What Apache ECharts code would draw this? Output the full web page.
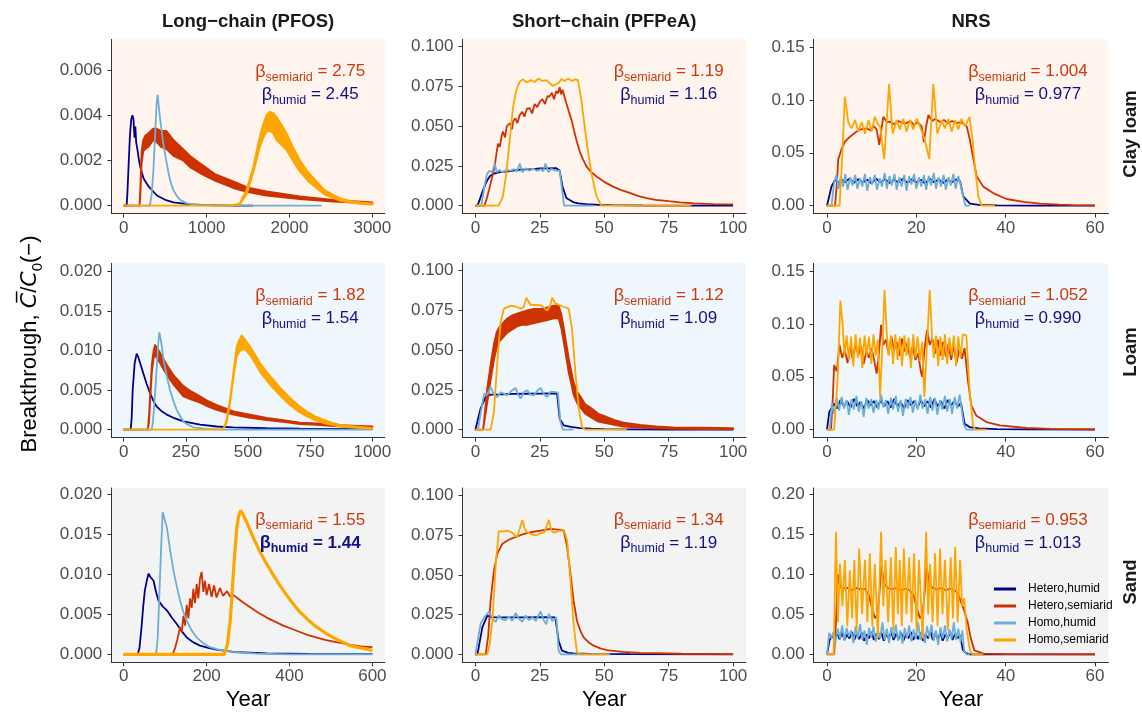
<!DOCTYPE html>
<html><head><meta charset="utf-8">
<script src="https://cdn.jsdelivr.net/npm/echarts@6/dist/echarts.min.js"></script>
<style>html,body{margin:0;padding:0;background:#fff}#c{width:1142px;height:715px}</style>
</head><body><div id="c"></div>
<script>
// ---------------- labels ----------------
const seriesNames = ['Hetero,humid','Hetero,semiarid','Homo,humid','Homo,semiarid'];
const colTitles = ['Long\u2212chain (PFOS)','Short\u2212chain (PFPeA)','NRS'];
const rowLabels = ['Clay loam','Loam','Sand'];
const betaSemiarid = [['2.75','1.19','1.004'],['1.82','1.12','1.052'],['1.55','1.34','0.953']];
const betaHumid    = [['2.45','1.16','0.977'],['1.54','1.09','0.990'],['1.44','1.19','1.013']];
// axis extents (data max per panel) and tick labels  [row][col]
const xMaxByPanel = [[3000,100,60],[1000,100,60],[600,100,60]];
const yMaxByPanel = [[0.007,0.0997,0.1497],[0.02,0.0997,0.1497],[0.0198,0.0997,0.1977]];
const xTicks = [
  [[0,1000,2000,3000],[0,25,50,75,100],[0,20,40,60]],
  [[0,250,500,750,1000],[0,25,50,75,100],[0,20,40,60]],
  [[0,200,400,600],[0,25,50,75,100],[0,20,40,60]]];
const yTicks = [
  [[0,0.002,0.004,0.006],[0,0.025,0.05,0.075,0.1],[0,0.05,0.1,0.15]],
  [[0,0.005,0.01,0.015,0.02],[0,0.025,0.05,0.075,0.1],[0,0.05,0.1,0.15]],
  [[0,0.005,0.01,0.015,0.02],[0,0.025,0.05,0.075,0.1],[0,0.05,0.1,0.15,0.2]]];

// ---------------- data: PFOS, clay loam ----------------
const pfosClay_hetHumid = [[0,0],[35,0],[45,0.0006],[60,0.0019],[75,0.0031],[90,0.0038],[105,0.0040],[118,0.0038],[130,0.0030],[140,0.0035],[150,0.0028],[165,0.0025],[180,0.0021],[200,0.0017],[240,0.0012],[300,0.00085],[400,0.00045],[500,0.00026],[600,0.00015],[800,0.00006],[1000,0.00002],[1300,0],[1560,0]];
const pfosClay_hetSemiBand = [[0,0,0],[190,0,0],[200,0.0004,0.0008],[215,0.0018,0.0024],[235,0.0024,0.0029],[260,0.0025,0.0031],[300,0.0026,0.0032],[355,0.0029,0.0034],[400,0.0028,0.0034],[450,0.0026,0.0033],[516,0.0025,0.0033],[600,0.0022,0.0029],[717,0.0020,0.0025],[800,0.0017,0.0022],[919,0.00144,0.00188],[1100,0.0011,0.0014],[1321,0.00078,0.00107],[1500,0.0006,0.0008],[1723,0.00044,0.00063],[2124,0.00029,0.00041],[2526,0.00018,0.00026],[3000,0.0001,0.00015]];
const pfosClay_homHumid = [[0,0],[315,0],[337,0.0005],[357,0.0015],[377,0.003],[397,0.0045],[409,0.0049],[420,0.0045],[437,0.0039],[457,0.0033],[477,0.00275],[498,0.0023],[518,0.00188],[538,0.0015],[558,0.00114],[578,0.0009],[598,0.0007],[638,0.00045],[678,0.00026],[760,0.0001],[900,0.00003],[1100,0],[2385,0]];
const pfosClay_homSemiBand = [[0,0,0],[1300,0,0],[1400,0.00005,0.0001],[1482,0.0005,0.0007],[1562,0.00144,0.0017],[1602,0.002,0.0024],[1642,0.0026,0.00305],[1683,0.0030,0.0036],[1723,0.00327,0.0040],[1763,0.0033,0.00415],[1803,0.0032,0.0041],[1843,0.0029,0.00393],[1900,0.0027,0.0036],[1964,0.00246,0.0032],[2040,0.002,0.0026],[2124,0.00151,0.00202],[2220,0.0011,0.0015],[2325,0.00078,0.00107],[2420,0.0005,0.0007],[2526,0.00034,0.00048],[2627,0.0002,0.0003],[2727,0.00015,0.00022],[2850,0.00008,0.00014],[3000,0.00005,0.0001]];

// ---------------- PFOS, loam ----------------
const pfosLoam_hetHumid = [[0,0],[28,0],[32,0.0015],[36,0.005],[44,0.0084],[52,0.0096],[58,0.0092],[65,0.0085],[79,0.0071],[92,0.0058],[106,0.0046],[120,0.0036],[133,0.0029],[150,0.0024],[173,0.0019],[200,0.0015],[240,0.00105],[307,0.00063],[374,0.0004],[441,0.0003],[575,0.00018],[709,0.00012],[843,0.0001],[1000,0.00008]];
const pfosLoam_hetSemiBand = [[0,0,0],[97,0,0],[102,0.001,0.002],[106,0.0035,0.0045],[113,0.0072,0.0082],[120,0.0090,0.0100],[126,0.0094,0.0107],[132,0.0091,0.0104],[139,0.0088,0.0101],[155,0.0079,0.0092],[173,0.0069,0.0082],[200,0.0057,0.0069],[240,0.0042,0.0055],[273,0.0038,0.0048],[307,0.0034,0.0042],[340,0.0029,0.0036],[374,0.0025,0.0031],[441,0.0019,0.0023],[508,0.0015,0.0019],[575,0.0012,0.0015],[642,0.001,0.0012],[709,0.0007,0.0009],[776,0.0006,0.0008],[843,0.00046,0.0006],[920,0.0004,0.0005],[1000,0.0003,0.0004]];
const pfosLoam_homHumid = [[0,0],[112,0],[117,0.0008],[122,0.0029],[128,0.0055],[133,0.008],[138,0.0105],[143,0.0123],[150,0.0112],[160,0.0088],[173,0.0068],[186,0.005],[200,0.0036],[213,0.0025],[227,0.0017],[240,0.001],[260,0.0006],[280,0.0003],[334,0.0001],[400,0],[1000,0]];
const pfosLoam_homSemiBand = [[0,0,0],[400,0,0],[414,0.0009,0.0013],[428,0.0034,0.004],[441,0.0065,0.0072],[454,0.0092,0.0105],[464,0.0098,0.0113],[474,0.0101,0.0119],[490,0.0101,0.0113],[508,0.0094,0.0105],[528,0.0084,0.0095],[548,0.0073,0.0084],[575,0.0062,0.0073],[602,0.0052,0.0063],[635,0.0041,0.0051],[669,0.0031,0.004],[702,0.0023,0.0031],[736,0.0017,0.0023],[770,0.0012,0.0017],[803,0.00084,0.00126],[836,0.0006,0.0009],[870,0.0004,0.0006],[935,0.00022,0.0004],[1000,0.0001,0.0002]];

// ---------------- PFOS, sand ----------------
const pfosSand_hetHumid = [[0,0],[34,0],[38,0.0008],[43,0.0034],[47,0.006],[51,0.008],[56,0.0093],[60,0.0101],[64,0.0097],[68,0.0099],[72,0.0092],[78,0.0078],[84,0.0067],[94,0.006],[104,0.0055],[116,0.0046],[128,0.0038],[140,0.0029],[152,0.0021],[168,0.0015],[184,0.0011],[204,0.0008],[224,0.0006],[265,0.0003],[345,0.00013],[450,0.00005],[600,0.00002]];
const pfosSand_hetSemi = [[0,0],[118,0],[124,0.0008],[130,0.002],[136,0.0034],[140,0.0028],[144,0.0048],[148,0.0036],[152,0.0062],[156,0.0045],[160,0.007],[164,0.0058],[168,0.0082],[172,0.0064],[176,0.0088],[180,0.007],[184,0.0095],[188,0.0103],[192,0.0078],[196,0.0092],[200,0.0074],[206,0.0088],[212,0.0072],[218,0.0086],[224,0.0071],[232,0.0083],[240,0.0073],[249,0.0079],[257,0.0072],[265,0.0074],[285,0.0066],[305,0.0059],[325,0.0052],[345,0.0046],[365,0.0041],[385,0.0036],[405,0.0032],[425,0.0028],[445,0.0024],[466,0.0021],[486,0.0018],[506,0.0016],[526,0.0014],[546,0.0012],[573,0.001],[600,0.0009]];
const pfosSand_homHumid = [[0,0],[78,0],[82,0.002],[86,0.0076],[90,0.013],[94,0.0178],[99,0.0168],[104,0.0159],[112,0.013],[120,0.0105],[128,0.0085],[136,0.0067],[144,0.0053],[152,0.0042],[164,0.003],[176,0.0021],[192,0.0014],[208,0.0009],[236,0.0005],[265,0.0003],[320,0.0001],[400,0],[600,0]];
const pfosSand_homSemi = [[0,0],[243,0],[250,0.0012],[257,0.0042],[261,0.0072],[265,0.0105],[269,0.0133],[273,0.0159],[277,0.0172],[282,0.018],[287,0.0176],[295,0.0167],[305,0.0155],[317,0.0141],[329,0.0128],[345,0.0113],[361,0.0099],[377,0.0086],[393,0.0074],[409,0.0063],[425,0.0053],[445,0.0043],[466,0.0034],[486,0.0027],[506,0.0021],[526,0.0016],[546,0.0011],[573,0.0008],[600,0.0005]];

// ---------------- PFPeA, clay loam ----------------
const pfpeaClay_hetHumid = [[0,0],[0.8,0],[1.7,0.0038],[3,0.01],[4.3,0.015],[5.6,0.0185],[6.9,0.02],[9,0.021],[12,0.0215],[14.6,0.022],[17.2,0.0226],[20,0.0228],[22.5,0.023],[25,0.0234],[28,0.0235],[31.4,0.0236],[32.7,0.022],[33.8,0.012],[35.3,0.0048],[37.9,0.0023],[40,0.0015],[43,0.001],[48,0.0005],[53,0.0003],[65,0.0001],[80,0],[100,0]];
const pfpeaClay_hetSemi = [[0,0],[3.5,0],[4.5,0.005],[5.6,0.012],[6.5,0.018],[7.5,0.0247],[8.2,0.033],[8.8,0.039],[9.5,0.037],[10.2,0.044],[10.7,0.0467],[11.5,0.043],[12.2,0.05],[12.7,0.0498],[13.5,0.052],[14.2,0.048],[14.6,0.053],[15.5,0.055],[16.3,0.052],[17.2,0.057],[18.2,0.059],[19,0.056],[20,0.061],[21.1,0.0613],[22,0.058],[23,0.064],[24,0.062],[25,0.0655],[26,0.067],[27,0.064],[28,0.069],[28.8,0.0686],[29.7,0.071],[30.5,0.067],[31.3,0.072],[32.1,0.0707],[32.7,0.0745],[33.3,0.07],[33.8,0.073],[34.5,0.069],[35.3,0.0644],[36.3,0.059],[37.3,0.054],[38.3,0.047],[39.2,0.0414],[40.5,0.034],[41.8,0.029],[43.1,0.0247],[45,0.021],[47,0.0184],[50,0.015],[53.4,0.012],[56.6,0.0098],[59.9,0.008],[63,0.0062],[66.4,0.0048],[70,0.0037],[75,0.0028],[79.3,0.0021],[85,0.0015],[92.2,0.001],[100,0.0008]];
const pfpeaClay_homHumid = [[0,0],[2.3,0],[3.5,0.012],[4.5,0.02],[5.5,0.022],[6.5,0.021],[7.5,0.0265],[8.3,0.021],[9.3,0.0225],[10.5,0.021],[12,0.0225],[13.5,0.022],[15,0.023],[16.2,0.0215],[17.2,0.0265],[18.2,0.021],[19.5,0.0235],[21,0.022],[22.5,0.0232],[24,0.0218],[25.5,0.023],[26.3,0.0215],[27.2,0.0265],[28.3,0.021],[29.5,0.0232],[31,0.022],[32.7,0.022],[33.8,0.008],[34.4,0],[45.7,0]];
const pfpeaClay_homSemi = [[0,0],[9,0],[10.7,0.0059],[12,0.0205],[13.3,0.041],[14.6,0.062],[15.9,0.0728],[17.2,0.078],[18.5,0.0795],[20,0.0775],[21.5,0.079],[23,0.0778],[24.5,0.08],[26,0.0785],[27.5,0.079],[28.5,0.0775],[30.1,0.0753],[31.5,0.0765],[32.5,0.0775],[33.4,0.0797],[34.5,0.0785],[36,0.08],[37.5,0.0785],[38.8,0.0795],[39.8,0.079],[41.1,0.0665],[43.1,0.041],[45,0.0205],[47,0.0059],[48.9,0],[83.8,0]];

// ---------------- PFPeA, loam ----------------
const pfpeaLoam_hetHumid = [[0,0],[0.5,0],[2,0.0132],[4,0.0206],[5.9,0.022],[10,0.0222],[15,0.0225],[20,0.0226],[25,0.0227],[29,0.0228],[31.7,0.0225],[32.7,0.007],[34.3,0.0027],[37,0.0017],[40.7,0.001],[45,0.0006],[50,0.0004],[60,0.0002],[75,0.0001],[100,0.00005]];
const pfpeaLoam_hetSemiBand = [[0,0,0],[3,0,0],[4.6,0.017,0.026],[5.9,0.031,0.041],[7.2,0.044,0.054],[8.2,0.051,0.061],[9.1,0.055,0.064],[10.7,0.058,0.067],[12.4,0.061,0.07],[14.3,0.063,0.072],[16.2,0.065,0.073],[18,0.066,0.074],[20.1,0.066,0.075],[22.7,0.067,0.076],[25.3,0.068,0.076],[28,0.069,0.077],[30.4,0.07,0.078],[32.3,0.07,0.078],[33.3,0.064,0.073],[34.3,0.055,0.064],[35.2,0.046,0.055],[36.2,0.036,0.045],[37.2,0.029,0.037],[38.1,0.022,0.03],[39.4,0.017,0.024],[40.7,0.014,0.021],[42.6,0.01,0.016],[44.6,0.008,0.014],[47.7,0.005,0.01],[51,0.004,0.008],[54,0.003,0.006],[57.5,0.002,0.0045],[63.9,0.0013,0.003],[70,0.0008,0.002],[76.8,0.0005,0.0015],[88,0.0003,0.0012],[100,0.0002,0.001]];
const pfpeaLoam_homHumid = [[0,0],[1,0],[2.2,0.012],[3.4,0.0227],[4.6,0.022],[5.9,0.027],[7.2,0.022],[8.5,0.0205],[9.8,0.0235],[11.1,0.0227],[12.4,0.0215],[13.7,0.024],[15.6,0.0263],[16.5,0.0225],[17.5,0.0195],[18.8,0.0235],[20.1,0.0248],[21.4,0.022],[22.7,0.0216],[24,0.0245],[25.3,0.0263],[26.5,0.0225],[27.8,0.0205],[29.1,0.0238],[30.4,0.0237],[32,0.0233],[33,0.0048],[34,0],[38,0]];
const pfpeaLoam_homSemi = [[0,0],[5.9,0],[7.2,0.011],[8.5,0.0426],[9.8,0.0678],[11.1,0.0762],[13.7,0.0779],[15.6,0.0775],[17.5,0.0762],[18.7,0.077],[19.8,0.083],[21.4,0.0783],[23,0.0785],[25.3,0.0783],[26.8,0.0765],[27.8,0.075],[29,0.078],[29.8,0.083],[31,0.0795],[31.7,0.0783],[34,0.0775],[36.2,0.0762],[37.5,0.0636],[38.8,0.036],[40.1,0.0132],[41.4,0.0017],[42.7,0],[58.8,0]];

// ---------------- PFPeA, sand ----------------
const pfpeaSand_hetHumid = [[0,0],[0.8,0],[2.7,0.017],[4.6,0.0244],[6,0.0235],[10,0.0233],[15,0.0233],[20,0.0233],[25,0.0234],[31,0.0233],[32.3,0.0086],[33.6,0.0023],[36,0.001],[38.1,0.0006],[45,0.0003],[60,0.0001],[100,0]];
const pfpeaSand_hetSemi = [[0,0],[4,0],[5,0.012],[5.9,0.0338],[7.2,0.0527],[8.5,0.0632],[10.4,0.0695],[12,0.0712],[13.7,0.0727],[16,0.074],[18.8,0.0758],[22,0.077],[25.3,0.0779],[29.1,0.079],[32,0.0785],[34.3,0.0779],[35.6,0.0674],[36.9,0.0506],[38.1,0.0338],[39.4,0.0212],[40.7,0.015],[42,0.0107],[44,0.0075],[45.9,0.0055],[48.5,0.0038],[51,0.0027],[57,0.0016],[63.9,0.001],[80,0.0004],[100,0.0002]];
const pfpeaSand_homHumid = [[0,0],[0.5,0],[2,0.019],[3.4,0.0233],[5.3,0.027],[6.6,0.0225],[7.9,0.0205],[9.1,0.0245],[10.4,0.022],[11.7,0.0215],[13,0.024],[14.3,0.021],[15.6,0.026],[16.9,0.0225],[18.2,0.0205],[19.5,0.0245],[20.8,0.0215],[22.1,0.0235],[23.4,0.021],[25.3,0.027],[26.5,0.0215],[27.5,0.019],[28.5,0.0255],[29.8,0.021],[31.4,0.0233],[32.3,0.0023],[33.2,0],[52.3,0]];
const pfpeaSand_homSemi = [[0,0],[4.6,0],[5.5,0.006],[6.6,0.0212],[7.9,0.0569],[9.1,0.0775],[10.7,0.0772],[12.4,0.0779],[14.3,0.0765],[16.2,0.0737],[17.2,0.079],[18.2,0.0846],[19.2,0.079],[20.1,0.0769],[21.8,0.0755],[23.5,0.0748],[25.3,0.0762],[26.9,0.077],[27.7,0.081],[28.5,0.0846],[29.5,0.078],[30.4,0.0765],[32,0.0775],[33.6,0.0779],[34.7,0.0765],[35.6,0.0716],[36.9,0.0464],[38.1,0.0191],[39.4,0.0013],[40.7,0],[51.7,0]];

// ---------------- NRS, clay loam ----------------
const nrsClay_hetHumid = [[0,0],[0.3,0],[1,0.018],[1.8,0.0245],[2.5,0.021],[3.2,0.025],[4,0.022],[5,0.0255],[6,0.0215],[7,0.025],[8,0.022],[9,0.0245],[10,0.021],[11,0.0255],[12,0.022],[13,0.025],[14,0.0215],[15,0.0245],[16,0.022],[17,0.0255],[18,0.0215],[19,0.025],[20,0.022],[21,0.0245],[22,0.021],[23,0.0255],[24,0.022],[25,0.025],[26,0.0215],[27,0.0245],[28,0.022],[29,0.025],[29.8,0.023],[30.5,0.0088],[32,0.0019],[34,0.0008],[38,0.0003],[45,0.0001],[60,0]];
const nrsClay_hetSemi = [[0,0],[1.8,0],[2.2,0.02],[2.5,0.0433],[3.3,0.054],[4,0.0606],[5.1,0.065],[6,0.068],[6.6,0.07],[7.5,0.072],[8.9,0.073],[9.8,0.071],[10.5,0.075],[11.1,0.072],[11.7,0.0574],[12.1,0.07],[12.6,0.084],[13.4,0.079],[14.1,0.0794],[15,0.077],[16,0.08],[17,0.078],[17.8,0.078],[18.7,0.08],[19.5,0.076],[20.3,0.079],[21.2,0.0747],[21.7,0.06],[22.2,0.075],[22.7,0.0857],[23.5,0.08],[24.3,0.082],[25.3,0.079],[26.2,0.081],[27,0.078],[28,0.08],[29,0.078],[30,0.079],[31.3,0.0747],[32,0.062],[32.8,0.0433],[33.5,0.0276],[35,0.018],[37.2,0.0119],[40.2,0.0063],[44,0.0035],[47.7,0.0019],[52,0.001],[55.1,0.0006],[60,0.0003]];
const nrsClay_homHumid = [[0,0],[1.0,0],[1.6,0.022],[2.1,0.029],[2.6,0.016],[3.1,0.028],[3.6,0.018],[4.1,0.03],[4.6,0.015],[5.2,0.027],[5.7,0.019],[6.3,0.029],[6.8,0.016],[7.4,0.026],[7.9,0.018],[8.5,0.03],[9.0,0.014],[9.6,0.027],[10.1,0.02],[10.7,0.029],[11.2,0.015],[11.8,0.026],[12.3,0.018],[12.9,0.031],[13.4,0.016],[14.0,0.028],[14.5,0.019],[15.1,0.03],[15.6,0.015],[16.2,0.027],[16.7,0.018],[17.3,0.029],[17.8,0.014],[18.4,0.028],[18.9,0.02],[19.5,0.03],[20.0,0.016],[20.6,0.027],[21.1,0.018],[21.7,0.029],[22.2,0.015],[22.8,0.028],[23.3,0.019],[23.9,0.031],[24.4,0.016],[25.0,0.027],[25.5,0.018],[26.1,0.029],[26.6,0.015],[27.2,0.027],[27.7,0.019],[28.3,0.03],[28.8,0.016],[29.4,0.028],[29.9,0.02],[30.4,0.01],[31,0],[32,0]];
const nrsClay_homSemi = [[0,0],[2.8,0],[3.3,0.037],[4,0.103],[4.8,0.078],[5.5,0.073],[6.3,0.081],[7,0.07],[7.8,0.079],[8.5,0.068],[9.3,0.081],[10,0.07],[10.7,0.084],[11.4,0.077],[11.9,0.075],[12.8,0.044],[13.9,0.115],[14.7,0.068],[15.6,0.081],[16.3,0.072],[17.1,0.082],[17.8,0.07],[18.6,0.081],[19.3,0.072],[20.1,0.082],[20.8,0.075],[21.9,0.062],[22.9,0.044],[23.8,0.115],[24.7,0.068],[25.7,0.081],[26.4,0.073],[27.2,0.082],[27.9,0.07],[28.7,0.081],[29.4,0.072],[30.1,0.082],[30.9,0.075],[31.9,0.084],[32.6,0.062],[33.1,0.037],[33.9,0.0088],[34.6,0],[37.6,0]];

// ---------------- NRS, loam ----------------
const nrsLoam_hetHumid = [[0,0],[0.2,0],[0.5,0.0167],[1.6,0.0246],[2.3,0.02],[3,0.028],[3.8,0.022],[4.5,0.027],[5.3,0.021],[6,0.029],[6.8,0.022],[7.5,0.026],[8.3,0.02],[9,0.028],[9.8,0.023],[10.5,0.027],[11.3,0.021],[12,0.028],[12.8,0.022],[13.5,0.027],[14.3,0.021],[15,0.029],[15.8,0.022],[16.5,0.026],[17.3,0.02],[18,0.028],[18.8,0.023],[19.5,0.027],[20.3,0.021],[21,0.028],[21.8,0.022],[22.5,0.027],[23.3,0.021],[24,0.029],[24.8,0.022],[25.5,0.027],[26.3,0.02],[27,0.028],[27.8,0.023],[28.5,0.027],[29.3,0.022],[30,0.025],[30.8,0.0057],[31.9,0.0025],[34,0.0012],[38,0.0006],[45,0.0002],[60,0.0001]];
const nrsLoam_hetSemi = [[0,0],[0.9,0],[1.3,0.03],[1.6,0.061],[2.2,0.055],[2.8,0.08],[3.4,0.068],[4,0.075],[4.6,0.063],[5.2,0.078],[5.8,0.066],[6.4,0.082],[7,0.07],[7.6,0.079],[8.2,0.062],[8.8,0.074],[9.4,0.068],[10,0.077],[10.6,0.065],[11.1,0.053],[11.6,0.07],[12.1,0.099],[12.6,0.08],[13.2,0.085],[13.8,0.072],[14.4,0.088],[15,0.075],[15.6,0.083],[16.2,0.07],[16.8,0.086],[17.4,0.074],[18,0.082],[18.6,0.068],[19.2,0.079],[19.8,0.066],[20.4,0.072],[21,0.055],[21.3,0.05],[21.8,0.075],[22.4,0.094],[23,0.08],[23.6,0.086],[24.2,0.072],[24.8,0.085],[25.4,0.07],[26,0.083],[26.6,0.069],[27.2,0.081],[27.8,0.066],[28.4,0.079],[29,0.063],[29.6,0.076],[30.2,0.067],[30.8,0.077],[31.6,0.045],[32.3,0.023],[33.4,0.0135],[35.7,0.0072],[38.7,0.004],[44.7,0.0016],[50,0.0008],[60,0.0004]];
const nrsLoam_homHumid = [[0,0],[0.6,0],[1.1,0.025],[1.6,0.015],[2.2,0.03],[2.7,0.018],[3.3,0.031],[3.8,0.02],[4.4,0.028],[4.9,0.014],[5.5,0.029],[6,0.019],[6.6,0.032],[7.1,0.017],[7.7,0.027],[8.2,0.012],[8.8,0.03],[9.3,0.02],[9.9,0.029],[10.4,0.016],[11,0.028],[11.5,0.019],[12.1,0.033],[12.6,0.021],[13.2,0.028],[13.7,0.015],[14.3,0.03],[14.8,0.019],[15.4,0.032],[15.9,0.017],[16.5,0.028],[17,0.013],[17.6,0.029],[18.1,0.02],[18.7,0.031],[19.2,0.016],[19.8,0.028],[20.3,0.019],[20.9,0.033],[21.4,0.02],[22,0.029],[22.5,0.015],[23.1,0.031],[23.6,0.018],[24.2,0.03],[24.7,0.014],[25.3,0.028],[25.8,0.019],[26.4,0.032],[26.9,0.017],[27.5,0.029],[28,0.015],[28.6,0.031],[29.1,0.02],[29.7,0.033],[30.2,0.018],[30.6,0.005],[31.2,0],[33,0]];
const nrsLoam_homSemi = [[0,0],[1.6,0],[2.4,0.05],[3,0.122],[3.5,0.1],[3.9,0.07],[4.4,0.089],[4.9,0.066],[5.4,0.088],[5.9,0.06],[6.4,0.09],[6.9,0.068],[7.4,0.087],[7.9,0.058],[8.4,0.089],[8.9,0.07],[9.4,0.088],[9.9,0.062],[10.4,0.09],[10.9,0.07],[11.4,0.085],[11.9,0.031],[12.5,0.09],[12.9,0.132],[13.4,0.09],[13.8,0.07],[14.3,0.089],[14.8,0.062],[15.3,0.09],[15.8,0.066],[16.3,0.088],[16.8,0.06],[17.3,0.089],[17.8,0.07],[18.3,0.087],[18.8,0.058],[19.3,0.09],[19.8,0.068],[20.3,0.088],[20.8,0.065],[21.3,0.083],[21.8,0.031],[22.5,0.09],[23,0.132],[23.5,0.09],[23.9,0.068],[24.4,0.089],[24.9,0.06],[25.4,0.088],[25.9,0.066],[26.4,0.09],[26.9,0.062],[27.4,0.087],[27.9,0.07],[28.4,0.089],[28.9,0.06],[29.4,0.088],[29.9,0.068],[30.4,0.09],[31.2,0.089],[31.9,0.039],[32.7,0.004],[33.2,0],[35.7,0]];

// ---------------- NRS, sand ----------------
const nrsSand_hetHumid = [[0,0],[0.3,0],[0.6,0.018],[1.2,0.024],[1.7,0.017],[2.3,0.026],[2.8,0.019],[3.4,0.027],[3.9,0.018],[4.5,0.025],[5,0.02],[5.6,0.028],[6.1,0.018],[6.7,0.026],[7.2,0.019],[7.8,0.027],[8.3,0.017],[8.9,0.025],[9.4,0.02],[10,0.028],[10.5,0.018],[11.1,0.026],[11.6,0.019],[12.2,0.027],[12.7,0.017],[13.3,0.025],[13.8,0.02],[14.4,0.028],[14.9,0.018],[15.5,0.026],[16,0.019],[16.6,0.027],[17.1,0.017],[17.7,0.025],[18.2,0.02],[18.8,0.028],[19.3,0.018],[19.9,0.026],[20.4,0.019],[21,0.027],[21.5,0.017],[22.1,0.025],[22.6,0.02],[23.2,0.028],[23.7,0.018],[24.3,0.026],[24.8,0.019],[25.4,0.027],[25.9,0.017],[26.5,0.025],[27,0.02],[27.6,0.028],[28.1,0.018],[28.7,0.026],[29.2,0.02],[29.8,0.024],[30.4,0.006],[31,0.002],[32,0],[60,0]];
const nrsSand_hetSemi = [[0,0],[1.6,0],[2,0.04],[2.4,0.1],[2.9,0.085],[3.5,0.082],[4.5,0.083],[5.5,0.08],[6.5,0.083],[7.5,0.081],[8.5,0.082],[9.3,0.075],[10,0.06],[10.7,0.045],[11.3,0.05],[11.8,0.08],[12.2,0.11],[12.7,0.09],[13.5,0.083],[14.5,0.081],[15.5,0.083],[16.5,0.08],[17.5,0.082],[18.5,0.08],[19.3,0.075],[20,0.06],[20.8,0.045],[21.4,0.05],[21.9,0.08],[22.3,0.11],[22.8,0.09],[23.6,0.083],[24.6,0.081],[25.6,0.083],[26.6,0.08],[27.6,0.082],[28.6,0.08],[29.4,0.075],[30,0.065],[30.7,0.055],[31.5,0.04],[32.2,0.02],[33,0.005],[35,0.001],[40,0.0003],[60,0]];
const nrsSand_homHumid = [[0,0],[0.3,0],[0.5,0.027],[1,0.02],[1.4,0.028],[1.9,0.015],[2.4,0.032],[2.9,0.02],[3.4,0.036],[3.9,0.017],[4.4,0.033],[4.9,0.022],[5.4,0.03],[5.9,0.014],[6.4,0.035],[6.9,0.02],[7.4,0.038],[7.9,0.018],[8.4,0.03],[8.9,0.012],[9.4,0.033],[9.9,0.021],[10.4,0.035],[10.9,0.016],[11.4,0.03],[11.9,0.02],[12.4,0.04],[12.9,0.018],[13.4,0.032],[13.9,0.014],[14.4,0.034],[14.9,0.021],[15.4,0.037],[15.9,0.017],[16.4,0.03],[16.9,0.013],[17.4,0.033],[17.9,0.02],[18.4,0.036],[18.9,0.016],[19.4,0.031],[19.9,0.019],[20.4,0.04],[20.9,0.018],[21.4,0.033],[21.9,0.014],[22.4,0.035],[22.9,0.021],[23.4,0.037],[23.9,0.017],[24.4,0.03],[24.9,0.012],[25.4,0.034],[25.9,0.02],[26.4,0.036],[26.9,0.016],[27.4,0.031],[27.9,0.019],[28.4,0.04],[28.9,0.018],[29.4,0.032],[29.9,0.015],[30.3,0.03],[30.7,0.005],[31.2,0],[32,0]];
const nrsSand_homSemi = [[0,0],[1.5,0],[2.0,0.153],[2.45,0.04],[2.9,0.113],[3.45,0.06],[4.0,0.118],[4.55,0.035],[5.1,0.105],[5.6,0.045],[6.1,0.118],[6.65,0.03],[7.2,0.132],[7.85,0.05],[8.5,0.118],[9.05,0.04],[9.6,0.126],[10.15,0.035],[10.7,0.113],[11.4,0.02],[12.1,0.153],[12.6,0.06],[13.1,0.118],[13.7,0.04],[14.3,0.121],[14.85,0.03],[15.4,0.134],[15.85,0.05],[16.3,0.118],[16.75,0.035],[17.2,0.132],[17.8,0.05],[18.4,0.121],[18.95,0.04],[19.5,0.126],[20.05,0.03],[20.6,0.118],[21.4,0.02],[22.2,0.153],[22.65,0.05],[23.1,0.113],[23.65,0.04],[24.2,0.126],[24.75,0.035],[25.3,0.132],[25.85,0.05],[26.4,0.118],[27.05,0.03],[27.7,0.121],[28.2,0.045],[28.7,0.134],[29.25,0.04],[29.8,0.118],[30.25,0.06],[30.7,0.07],[31.3,0.03],[32,0.005],[32.5,0],[35,0]];

// ---------------- assembly ----------------
const L = (a, w) => ({line: a, w: w}), B = a => ({band: a});
const panelSeries = [
  [[L(pfosClay_hetHumid),B(pfosClay_hetSemiBand),L(pfosClay_homHumid),B(pfosClay_homSemiBand)],
   [L(pfpeaClay_hetHumid),L(pfpeaClay_hetSemi),L(pfpeaClay_homHumid),L(pfpeaClay_homSemi)],
   [L(nrsClay_hetHumid),L(nrsClay_hetSemi),L(nrsClay_homHumid),L(nrsClay_homSemi)]],
  [[L(pfosLoam_hetHumid),B(pfosLoam_hetSemiBand),L(pfosLoam_homHumid),B(pfosLoam_homSemiBand)],
   [L(pfpeaLoam_hetHumid),B(pfpeaLoam_hetSemiBand),L(pfpeaLoam_homHumid),L(pfpeaLoam_homSemi)],
   [L(nrsLoam_hetHumid),L(nrsLoam_hetSemi),L(nrsLoam_homHumid),L(nrsLoam_homSemi)]],
  [[L(pfosSand_hetHumid),L(pfosSand_hetSemi),L(pfosSand_homHumid),L(pfosSand_homSemi, 3.2)],
   [L(pfpeaSand_hetHumid),L(pfpeaSand_hetSemi),L(pfpeaSand_homHumid),L(pfpeaSand_homSemi)],
   [L(nrsSand_hetHumid),L(nrsSand_hetSemi),L(nrsSand_homHumid),L(nrsSand_homSemi)]]];

// ---------------- styling / layout ----------------
const FONT = '"Liberation Sans", Arial, Helvetica, sans-serif';
const COLORS = ['#00008B','#CC3300','#6BAED6','#FFA500'];
const TXT_SEMI = '#CC3A0E', TXT_HUM = '#11118A';
const ROW_BG = ['#FFF4EE','#EFF7FD','#F3F3F3'];
const COL_LEFT = [111.3, 462.5, 813.6], COL_W = [273.5, 283.5, 294.8];
const ROW_TOP = [39.3, 263.3, 488], ROW_H = 174.3;
const Y_DEC = [3,3,2];
const LW = 1.8;

const grids=[], xAxes=[], yAxes=[], series=[], graphics=[];
for (let r=0;r<3;r++) for (let c=0;c<3;c++) {
  const gi = grids.length;
  const xm = xMaxByPanel[r][c], ym = yMaxByPanel[r][c];
  grids.push({left:COL_LEFT[c], top:ROW_TOP[r], width:COL_W[c], height:ROW_H,
    show:true, backgroundColor:ROW_BG[r], borderWidth:0, containLabel:false});
  xAxes.push({gridIndex:gi, type:'value', min:-0.05*xm, max:1.05*xm,
    axisLine:{show:true, onZero:false, lineStyle:{color:'#333', width:1}},
    axisTick:{show:true, length:4, lineStyle:{color:'#333'}, customValues:xTicks[r][c]},
    axisLabel:{show:true, customValues:xTicks[r][c], color:'#4D4D4D', fontSize:17, fontFamily:FONT, margin:6,
      formatter:v=>String(v)},
    splitLine:{show:false}});
  yAxes.push({gridIndex:gi, type:'value', min:-0.05*ym, max:1.05*ym,
    axisLine:{show:true, onZero:false, lineStyle:{color:'#333', width:1}},
    axisTick:{show:true, length:4, lineStyle:{color:'#333'}, customValues:yTicks[r][c]},
    axisLabel:{show:true, customValues:yTicks[r][c], color:'#4D4D4D', fontSize:17, fontFamily:FONT, margin:9,
      formatter:v=>v.toFixed(Y_DEC[c])},
    splitLine:{show:false}});
  panelSeries[r][c].forEach((s,k)=>{
    if (s.line) {
      series.push({type:'line', name:seriesNames[k], xAxisIndex:gi, yAxisIndex:gi, data:s.line,
        showSymbol:false, symbol:'none', lineStyle:{color:COLORS[k], width:s.w||LW}, itemStyle:{color:COLORS[k]},
        silent:true, z:2+k});
    } else {
      const band = s.band;
      series.push({type:'custom', name:seriesNames[k], xAxisIndex:gi, yAxisIndex:gi,
        coordinateSystem:'cartesian2d', data:[[band[0][0], band[0][1]]], clip:true, silent:true, z:2+k,
        itemStyle:{color:COLORS[k]},
        renderItem:(params, api)=>{
          const up = band.map(d=>api.coord([d[0], d[2]]));
          const lo = band.map(d=>api.coord([d[0], d[1]])).reverse();
          return {type:'polygon', shape:{points:up.concat(lo)},
            style:{fill:COLORS[k], stroke:COLORS[k], lineWidth:LW, lineJoin:'round'}};
        }});
    }
  });
  // beta annotations, anchored in data coordinates
  const bold = (r===2 && c===0);
  const mk = (txt, col, yFrac, sub, b) => {
    const base = {color:col, fontFamily:FONT, textBorderWidth:0, opacity:1, fontWeight: b?'bold':'normal'};
    return {type:'scatter', xAxisIndex:gi, yAxisIndex:gi, symbolSize:0, silent:true, z:10,
    itemStyle:{opacity:1}, data:[[0.75*xm, yFrac*ym]],
    label:{show:true, position:'inside', opacity:1, textBorderWidth:0, textShadowBlur:0,
      formatter:'{g|\u03B2}{s|'+sub+'}{v| = '+txt+'}',
      rich:{
        g:Object.assign({fontSize:18, lineHeight:24, verticalAlign:'middle'}, base),
        s:Object.assign({fontSize:12.5, lineHeight:13, verticalAlign:'bottom'}, base),
        v:Object.assign({fontSize:17, lineHeight:24, verticalAlign:'middle'}, base)}}};
  };
  series.push(mk(betaSemiarid[r][c], TXT_SEMI, 0.845, 'semiarid', false));
  series.push(mk(betaHumid[r][c], TXT_HUM, 0.70, 'humid', bold));
}

// column titles and x titles
const titleX = [COL_LEFT[0]+COL_W[0]/2, COL_LEFT[1]+COL_W[1]/2, 971];
const yearX = [COL_LEFT[0]+COL_W[0]/2, COL_LEFT[1]+COL_W[1]/2, COL_LEFT[2]+COL_W[2]/2];
for (let c=0;c<3;c++) {
  graphics.push({type:'text', x:titleX[c], y:22, silent:true,
    style:{text:colTitles[c], fill:'#1A1A1A', font:'bold 18.5px '+FONT, align:'center', verticalAlign:'middle'}});
  graphics.push({type:'text', x:yearX[c], y:700, silent:true,
    style:{text:'Year', fill:'#000', font:'22px '+FONT, align:'center', verticalAlign:'middle'}});
}
// row strip labels
const stripY = [134, 352, 582];
for (let r=0;r<3;r++) {
  graphics.push({type:'text', x:1131, y:stripY[r], rotation:Math.PI/2, silent:true,
    style:{text:rowLabels[r], fill:'#1A1A1A', font:'bold 18.5px '+FONT, align:'center', verticalAlign:'middle'}});
}
// y axis title
graphics.push({type:'text', x:30, y:344, rotation:Math.PI/2, silent:true,
  style:{text:'{n|Breakthrough, }{i|C\u0305}{n|/}{i|C}{sb|0}{n|(\u2212)}', align:'center', verticalAlign:'middle',
    rich:{
      n:{fontSize:22, fontFamily:FONT, fill:'#000', color:'#000', lineHeight:30, verticalAlign:'middle'},
      i:{fontSize:22, fontFamily:'"DejaVu Sans", '+FONT, fontStyle:'italic', fill:'#000', color:'#000', lineHeight:30, verticalAlign:'middle'},
      sb:{fontSize:15, fontFamily:FONT, fill:'#000', color:'#000', lineHeight:18, verticalAlign:'bottom'}}}});

const chart = echarts.init(document.getElementById('c'), null, {renderer:'canvas'});
chart.setOption({
  animation:false, backgroundColor:'#fff',
  grid:grids, xAxis:xAxes, yAxis:yAxes, series:series, graphic:graphics,
  legend:{show:true, left:989, top:578, orient:'vertical', itemWidth:22, itemHeight:3, itemGap:5, icon:'rect',
    selectedMode:false,
    textStyle:{fontSize:12, color:'#000', fontFamily:FONT, padding:[0,0,0,7]},
    data:seriesNames.map((n,i)=>({name:n, itemStyle:{color:COLORS[i]}}))}
});
</script></body></html>
